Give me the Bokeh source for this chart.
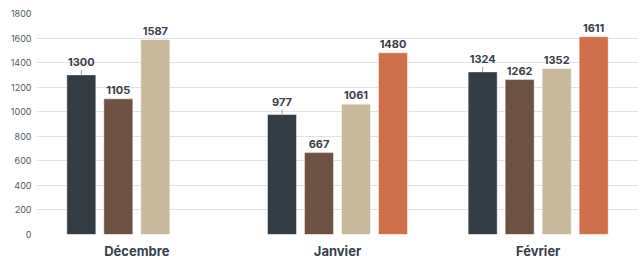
import math
from bokeh.plotting import figure
from bokeh.models import FactorRange, Range1d, ColumnDataSource, FixedTicker
from bokeh.transform import dodge
from bokeh.core.properties import value
from bokeh.embed import file_html
from bokeh.resources import INLINE

months = ["Décembre", "Janvier", "Février"]
serie1 = [1300, 977, 1324]
serie2 = [1105, 667, 1262]
serie3 = [1587, 1061, 1352]
serie4 = [None, 1480, 1611]
y_ticks = [0, 200, 400, 600, 800, 1000, 1200, 1400, 1600, 1800]

series = [serie1, serie2, serie3, serie4]
colors = ["#323c42", "#6d5244", "#c8b99d", "#cd704b"]
offsets = [-0.2766, -0.0922, 0.0922, 0.2766]
label_offsets = [-13, -9, -9, -9]
bar_w = 0.1445
FONT = "Inter"

p = figure(x_range=FactorRange(*months), y_range=Range1d(0, 1800),
           width=638, height=261, output_backend="svg", toolbar_location=None,
           min_border_left=36, min_border_right=0, min_border_top=13,
           min_border_bottom=26)
p.outline_line_color = None
p.background_fill_color = "white"
p.border_fill_color = "white"

p.xgrid.grid_line_color = None
p.ygrid.grid_line_color = "#e2e2e2"
p.ygrid.grid_line_width = 1

p.yaxis.ticker = FixedTicker(ticks=y_ticks)
p.yaxis.axis_line_color = None
p.yaxis.major_tick_line_color = None
p.yaxis.minor_tick_line_color = None
p.yaxis.major_tick_out = 0
p.yaxis.major_tick_in = 0
p.yaxis.major_label_text_font = FONT
p.yaxis.major_label_text_font_size = "9px"
p.yaxis.major_label_text_color = "#555a60"
p.yaxis.major_label_standoff = 5

p.xaxis.axis_line_color = None
p.xaxis.major_tick_line_color = None
p.xaxis.minor_tick_line_color = None
p.xaxis.major_tick_out = 0
p.xaxis.major_tick_in = 0
p.xaxis.major_label_text_font = FONT
p.xaxis.major_label_text_font_size = "13px"
p.xaxis.major_label_text_font_style = "bold"
p.xaxis.major_label_text_color = "#3a3f4a"
p.xaxis.major_label_standoff = 8

px_per_unit = 222 / 1800.0

for i, (vals, col, off, loff) in enumerate(zip(series, colors, offsets, label_offsets)):
    xs = [m for m, v in zip(months, vals) if v is not None]
    ys = [v for v in vals if v is not None]
    src = ColumnDataSource(dict(x=xs, y=ys, lab=[str(v) for v in ys],
                                y1=[v + 5 / px_per_unit for v in ys]))
    p.vbar(x=dodge("x", off, range=p.x_range), top="y", width=bar_w, source=src,
           fill_color=col, line_color="white", line_alpha=0.45, line_width=1)
    if i == 0:
        p.segment(x0=dodge("x", off, range=p.x_range), y0="y",
                  x1=dodge("x", off, range=p.x_range), y1="y1", source=src,
                  line_color="#9a9ea3", line_width=1)
    p.text(x=dodge("x", off, range=p.x_range), y="y", text="lab", source=src,
           text_font=value(FONT), text_font_size="11px", text_font_style="bold",
           text_color="#3b4049", text_align="center", text_baseline="middle",
           y_offset=loff)

html = file_html(p, INLINE)
html = html.replace("<head>", "<head><style>html,body{margin:0;padding:0;}</style>", 1)
open("out.html", "w").write(html)
